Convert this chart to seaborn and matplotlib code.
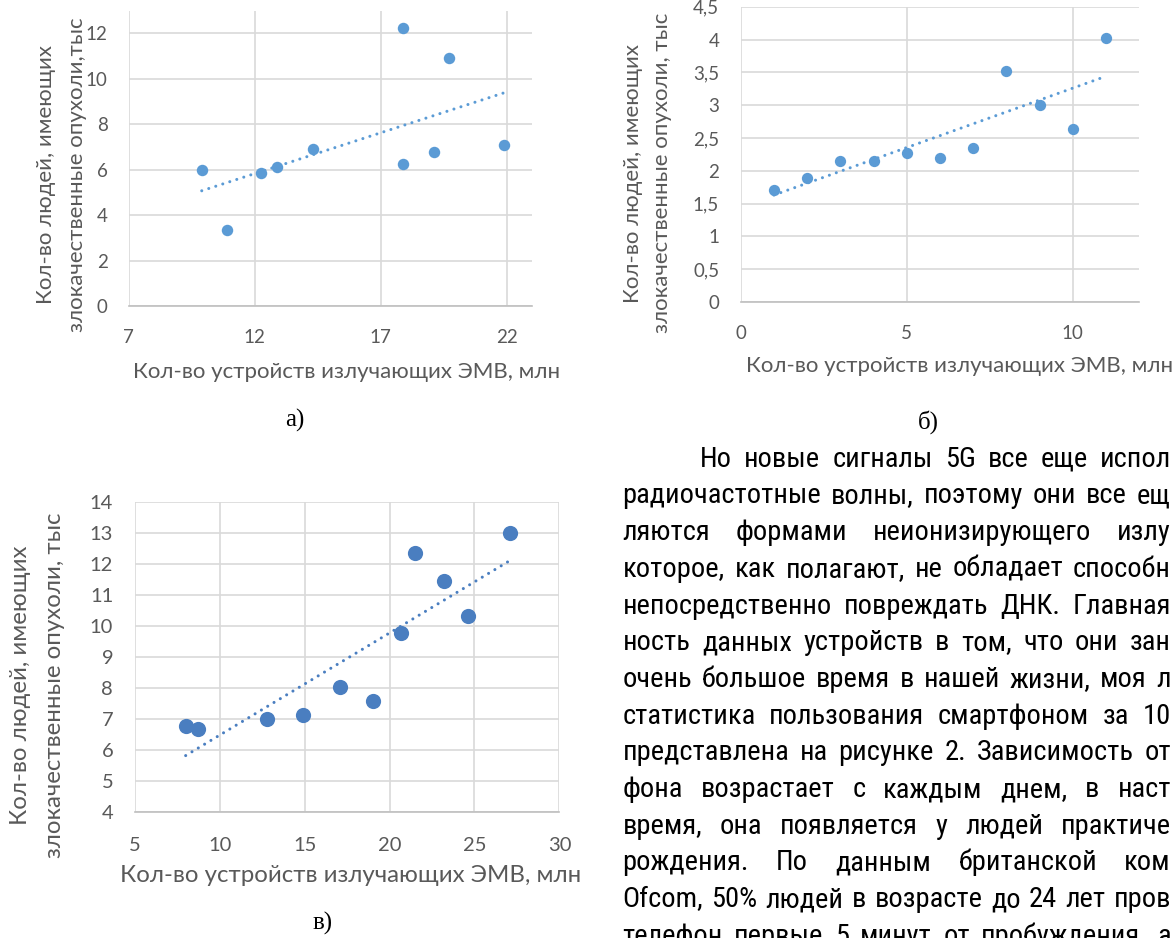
import matplotlib
matplotlib.use("Agg")
import matplotlib.pyplot as plt
import seaborn as sns
from matplotlib import font_manager
from matplotlib.font_manager import FontProperties
from matplotlib.ft2font import FT2Font
from matplotlib.ticker import FuncFormatter

# ---------------- data ----------------
# panel а)
devices_a = [9.9, 10.9, 12.25, 12.9, 14.3, 17.9, 17.9, 19.1, 19.7, 21.9]
cases_a = [6.0, 3.35, 5.85, 6.1, 6.9, 12.25, 6.25, 6.8, 10.9, 7.1]
xticks_a = [7, 12, 17, 22]
yticks_a = [0, 2, 4, 6, 8, 10, 12]

# panel б)
devices_b = [1, 2, 3, 4, 5, 6, 7, 8, 9, 10, 11]
cases_b = [1.71, 1.89, 2.15, 2.15, 2.27, 2.19, 2.34, 3.52, 3.0, 2.64, 4.02]
xticks_b = [0, 5, 10]
yticks_b = [0, 0.5, 1, 1.5, 2, 2.5, 3, 3.5, 4, 4.5]

# panel в)
devices_v = [8.0, 8.7, 12.8, 14.9, 17.1, 19.0, 20.7, 21.5, 23.2, 24.6, 27.1]
cases_v = [6.8, 6.7, 7.0, 7.15, 8.03, 7.6, 9.78, 12.37, 11.47, 10.33, 13.02]
xticks_v = [5, 10, 15, 20, 25, 30]
yticks_v = [4, 5, 6, 7, 8, 9, 10, 11, 12, 13, 14]

x_title = "Кол-во устройств излучающих ЭМВ, млн"
y_title_a = ["Кол-во людей, имеющих", "злокачественные опухоли,тыс"]
y_title_bv = ["Кол-во людей, имеющих", "злокачественные опухоли, тыс"]
captions = ["а)", "б)", "в)"]

body_lines = [
    "Но новые сигналы 5G все еще испол",
    "радиочастотные волны, поэтому они все ещ",
    "ляются формами неионизирующего излу",
    "которое, как полагают, не обладает способн",
    "непосредственно повреждать ДНК. Главная",
    "ность данных устройств в том, что они зан",
    "очень большое время в нашей жизни, моя л",
    "статистика пользования смартфоном за 10",
    "представлена на рисунке 2. Зависимость от",
    "фона возрастает с каждым днем, в наст",
    "время, она появляется у людей практиче",
    "рождения. По данным британской ком",
    "Ofcom, 50% людей в возрасте до 24 лет пров",
    "телефон первые 5 минут от пробуждения, а",
]

CYR = "КолвЭМВжщ"


# ---------------- fonts ----------------
def covers(path, sample=CYR):
    try:
        f = FT2Font(path)
        return all(f.get_char_index(ord(c)) for c in sample)
    except Exception:
        return False


def usable(name):
    try:
        path = font_manager.findfont(FontProperties(family=name),
                                     fallback_to_default=False)
        return covers(path)
    except Exception:
        return False


def pick(names):
    for n in names:
        if usable(n):
            return n
    return "DejaVu Sans"


def narrow_sans():
    prefer = ["Liberation Sans Narrow", "Arial Narrow", "Roboto Condensed",
              "Open Sans Condensed", "Noto Sans Condensed", "DejaVu Sans Condensed",
              "DejaVu Sans"]
    found = []
    for e in font_manager.fontManager.ttflist:
        tag = (e.name + " " + e.fname).lower()
        stretch = str(e.stretch).lower()
        is_narrow = ("narrow" in tag or "condensed" in tag or "condensed" in stretch)
        if not is_narrow or "mono" in tag or "serif" in tag or "bold" in tag \
                or "italic" in tag or "oblique" in tag or "light" in tag \
                or "black" in tag or "medium" in tag or "semibold" in tag or "thin" in tag:
            continue
        if str(e.style) != "normal":
            continue
        if not covers(e.fname):
            continue
        found.append(e)
    if not found:
        return None
    def rank(e):
        for i, p in enumerate(prefer):
            if e.name == p:
                extra = 0 if "extra" not in e.fname.lower() and "semi" not in e.fname.lower() else 1
                return (i, extra)
        return (len(prefer), 0)
    found.sort(key=rank)
    return found[0].fname


chart_font = pick(["Lato", "Open Sans", "Noto Sans"])
narrow_path = narrow_sans()
if narrow_path:
    body_props = dict(fontproperties=FontProperties(fname=narrow_path))
else:
    body_props = dict(family=pick(["Liberation Sans", "Roboto"]))
serif_font = pick(["Liberation Serif", "DejaVu Serif"])

sns.set_theme(style="white")
plt.rcParams["font.family"] = [chart_font, "DejaVu Sans"]

W, H = 1173, 938
fig = plt.figure(figsize=(W / 100, H / 100), dpi=100)
fig.patch.set_facecolor("white")

GRID = "#D9D9D9"
AXIS = "#BFBFBF"
LABEL = "#595959"


def rect(left, top, right, bottom):
    return [left / W, 1 - bottom / H, (right - left) / W, (bottom - top) / H]


def at(x, y):
    return x / W, 1 - y / H


def comma(v, _):
    return f"{v:g}".replace(".", ",")


def panel(box, xs, ys, color, msize, xlim, ylim, xt, yt, tick_fs, padx, pady):
    ax = fig.add_axes(rect(*box))
    sns.regplot(x=xs, y=ys, ax=ax, ci=None, truncate=True, color=color,
                scatter_kws=dict(s=msize, linewidths=0, alpha=1, zorder=3),
                line_kws=dict(lw=2.2, linestyle=(0, (0.01, 2.4)),
                              dash_capstyle="round", zorder=2))
    ax.set_xlim(*xlim)
    ax.set_ylim(*ylim)
    ax.set_xticks(xt)
    ax.set_yticks(yt)
    ax.yaxis.set_major_formatter(FuncFormatter(comma))
    ax.xaxis.set_major_formatter(FuncFormatter(comma))
    ax.set_xlabel("")
    ax.set_ylabel("")
    ax.grid(True, color=GRID, lw=1.2)
    ax.set_axisbelow(True)
    for s in ("top", "right", "left"):
        ax.spines[s].set_visible(False)
    ax.spines["bottom"].set_color(AXIS)
    ax.spines["bottom"].set_linewidth(1.2)
    ax.tick_params(length=0, labelsize=tick_fs, labelcolor=LABEL)
    ax.tick_params(axis="x", pad=padx)
    ax.tick_params(axis="y", pad=pady)
    ax.set_facecolor("white")
    return ax


LIGHT = "#5B9BD5"
DARK = "#4A7EC0"

panel((128.6, 10.7, 532.1, 306), devices_a, cases_a, LIGHT, 68, (7, 23), (0, 13),
      xticks_a, yticks_a, 13.5, 16.5, 15)
panel((740.7, 6.7, 1139.1, 302), devices_b, cases_b, LIGHT, 66, (0, 12), (0, 4.5),
      xticks_b, yticks_b, 13.5, 16.5, 15.5)
panel((134.7, 502.3, 559.4, 812.3), devices_v, cases_v, DARK, 120, (5, 30), (4, 14),
      xticks_v, yticks_v, 14.5, 17.5, 15.5)

# axis titles
fs_ab, fs_v = 16, 17.3
fig.text(*at(346.8, 372), x_title, ha="center", va="center", fontsize=fs_ab, color=LABEL)
fig.text(*at(746, 366), x_title, ha="left", va="center", fontsize=fs_ab, color=LABEL)
fig.text(*at(350.8, 875), x_title, ha="center", va="center", fontsize=fs_v, color=LABEL)

for (x1, x2, yc, lines, fs) in [(46.4, 76.8, 175, y_title_a, fs_ab),
                                (632.9, 662.1, 173, y_title_bv, fs_ab),
                                (20.7, 54.6, 685, y_title_bv, fs_v)]:
    fig.text(*at(x1, yc), lines[0], rotation=90, ha="center", va="center",
             fontsize=fs, color=LABEL)
    fig.text(*at(x2, yc), lines[1], rotation=90, ha="center", va="center",
             fontsize=fs, color=LABEL)

# panel captions
for (cx, cy), cap in zip([(295, 420), (928, 422), (323, 923)], captions):
    fig.text(*at(cx, cy), cap, ha="center", va="center", fontsize=18,
             family=serif_font, color="black")

# justified body text on the right
renderer = fig.canvas.get_renderer()
body_fs = 20.5
line_gap = 36.7
first_base = 466.7
left_edge, indent = 622.4, 700
right_edge = 1171


def measure(words, fs):
    out = []
    for w in words:
        t = fig.text(0, 0, w, fontsize=fs, **body_props)
        out.append(t.get_window_extent(renderer).width)
        t.remove()
    return out


# shrink the type only if a line cannot hold its words with a normal space
min_gap = 0.2 * body_fs * 100 / 72
scale = 1.0
for i, line in enumerate(body_lines):
    words = line.split(" ")
    start = indent if i == 0 else left_edge
    need = sum(measure(words, body_fs)) + min_gap * (len(words) - 1)
    scale = min(scale, (right_edge - start) / need)
body_fs *= scale

for i, line in enumerate(body_lines):
    words = line.split(" ")
    start = indent if i == 0 else left_edge
    base = first_base + i * line_gap
    widths = measure(words, body_fs)
    gap = (right_edge - start - sum(widths)) / max(len(words) - 1, 1)
    x = start
    for w, wd in zip(words, widths):
        fig.text(*at(x, base), w, fontsize=body_fs, color="black",
                 va="baseline", ha="left", **body_props)
        x += wd + gap

fig.savefig("out.png", dpi=100, facecolor="white")
